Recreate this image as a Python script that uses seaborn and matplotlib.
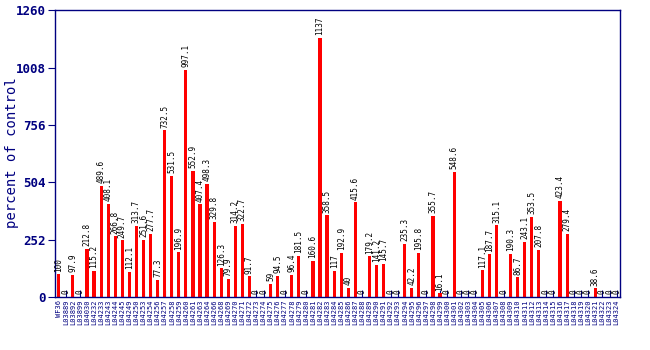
import matplotlib
matplotlib.use("Agg")
import matplotlib.pyplot as plt
import seaborn as sns
import pandas as pd

labels = ["WF36", "L03889", "L03892", "L03899", "L04030", "L04232", "L04233", "L04243",
          "L04244", "L04245", "L04249", "L04250", "L04253", "L04254", "L04256", "L04257",
          "L04258", "L04259", "L04260", "L04261", "L04263", "L04264", "L04266", "L04268",
          "L04269", "L04270", "L04271", "L04272", "L04273", "L04274", "L04275", "L04276",
          "L04277", "L04278", "L04279", "L04280", "L04281", "L04282", "L04283", "L04284",
          "L04285", "L04286", "L04287", "L04288", "L04289", "L04290", "L04291", "L04292",
          "L04293", "L04294", "L04295", "L04296", "L04297", "L04298", "L04299", "L04300",
          "L04301", "L04302", "L04303", "L04304", "L04305", "L04306", "L04307", "L04308",
          "L04309", "L04310", "L04311", "L04312", "L04313", "L04314", "L04315", "L04316",
          "L04317", "L04318", "L04319", "L04320", "L04321", "L04322", "L04323", "L04324"]

values = [100, 0, 97.9, 0, 212.8, 115.2, 489.6, 408.1, 266.8, 249.7, 112.1, 313.7,
          251.6, 277.7, 77.3, 732.5, 531.5, 196.9, 997.1, 552.9, 407.4, 498.3, 329.8,
          126.3, 79.9, 314.2, 322.7, 91.7, 0, 0, 59, 94.5, 0, 96.4, 181.5, 0, 160.6,
          1137, 358.5, 117, 192.9, 40, 415.6, 0, 179.2, 141.2, 145.7, 0, 0, 235.3, 42.2,
          195.8, 0, 355.7, 16.1, 0, 548.6, 0, 0, 0, 117.1, 187.7, 315.1, 0, 190.3, 86.7,
          243.1, 353.5, 207.8, 0, 0, 423.4, 279.4, 0, 0, 0, 38.6, 0, 0, 0]

value_text = ["0" if v == 0 else (str(int(v)) if float(v).is_integer() else f"{v:.1f}")
              for v in values]

yticks = [0, 252, 504, 756, 1008, 1260]

navy = "#000080"
df = pd.DataFrame({"label": labels, "value": values})

fig = plt.figure(figsize=(6.5, 3.5), dpi=100)
ax = fig.add_axes([0.085, 0.151, 0.869, 0.820])
sns.barplot(data=df, x="label", y="value", color="red", saturation=1,
            width=0.45, ax=ax, order=labels)
ax.set_axisbelow(True)
ax.set_xlim(-0.5, len(labels) - 0.5)
ax.set_ylim(0, 1260)
ax.set_yticks(yticks)
ax.set_yticklabels([str(t) for t in yticks], fontfamily="DejaVu Sans Mono",
                   fontweight="bold", fontsize=9, color=navy)
ax.set_xticks(range(len(labels)))
ax.set_xticklabels(labels, rotation=90, fontfamily="DejaVu Sans Mono",
                   fontsize=5, color=navy)
ax.tick_params(axis="x", direction="in", length=5, color=navy, pad=2)
ax.tick_params(axis="y", direction="out", length=5, color=navy, pad=2)
ax.set_xlabel("")
ax.set_ylabel("")
fig.text(0.018, 0.565, "percent of control", rotation=90, ha="center", va="center",
         fontfamily="DejaVu Sans Mono", fontsize=10, color=navy)
for s in ax.spines.values():
    s.set_color(navy)
    s.set_linewidth(1)

for i, (v, t) in enumerate(zip(values, value_text)):
    ax.text(i, v + 12, t, rotation=90, ha="center", va="bottom",
            fontfamily="DejaVu Sans Mono", fontsize=5.5, color="black")

fig.savefig("out.png", dpi=100)
